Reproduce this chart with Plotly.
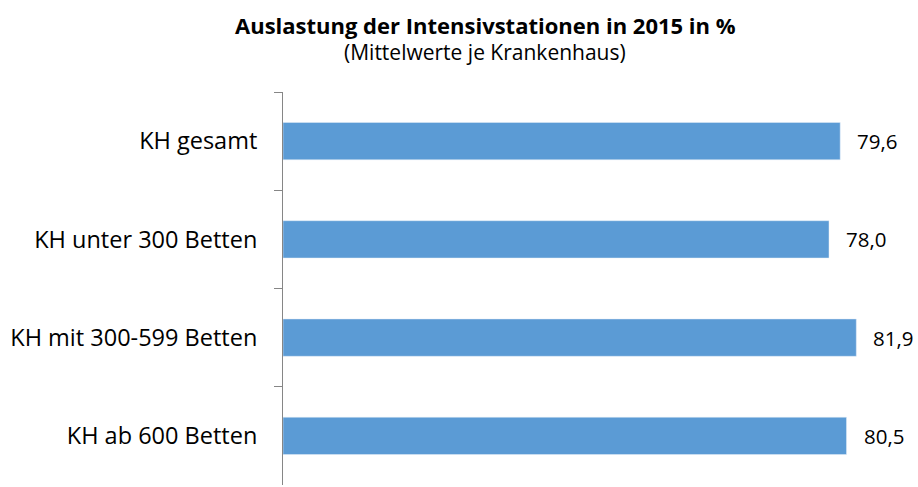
import plotly.graph_objects as go

categories = ["KH gesamt", "KH unter 300 Betten", "KH mit 300-599 Betten", "KH ab 600 Betten"]
values = [79.6, 78.0, 81.9, 80.5]
title_text = "Auslastung der Intensivstationen in 2015 in %"
subtitle_text = "(Mittelwerte je Krankenhaus)"

FONT = "Open Sans"
W, H = 918, 487
plot_left, plot_top, plot_bot = 283, 92, 485
pw = W - plot_left
ph = plot_bot - plot_top
xmax = pw / 7.0

fig = go.Figure()
fig.add_trace(go.Bar(
    y=categories, x=values, orientation="h",
    marker=dict(color="#5B9BD5"), width=0.38,
    hoverinfo="skip",
))
for c, v in zip(categories, values):
    fig.add_annotation(x=v, y=c, text=f"{v:.1f}".replace(".", ","), showarrow=False,
                       xanchor="left", xshift=15, font=dict(family=FONT, size=20.5, color="#000"))

cx = (485 - plot_left) / pw
fig.add_annotation(xref="paper", yref="paper", x=cx, y=1 + (92 - 25) / ph,
                   text=f"<b>{title_text}</b>", showarrow=False, xanchor="center", yanchor="middle",
                   font=dict(family=FONT, size=22, color="#000"))
fig.add_annotation(xref="paper", yref="paper", x=cx, y=1 + (92 - 52) / ph,
                   text=subtitle_text, showarrow=False, xanchor="center", yanchor="middle",
                   font=dict(family=FONT, size=21, color="#000"))

fig.update_layout(
    width=W, height=H,
    paper_bgcolor="white", plot_bgcolor="white",
    margin=dict(l=plot_left, r=0, t=plot_top, b=H - plot_bot, autoexpand=False),
    showlegend=False,
    xaxis=dict(range=[0, xmax], visible=False),
    yaxis=dict(
        autorange="reversed", showline=True, linecolor="#868686", linewidth=1,
        ticks="outside", ticklen=8, tickcolor="#868686", tickson="boundaries",
        tickfont=dict(family=FONT, size=23.5, color="#000"), ticklabelstandoff=20,
        showgrid=False, automargin=False,
    ),
)
fig.write_html(
    "out.html",
    config={"displayModeBar": False, "staticPlot": True},
    post_script="document.body.style.margin='0';document.body.style.overflow='hidden';",
)
